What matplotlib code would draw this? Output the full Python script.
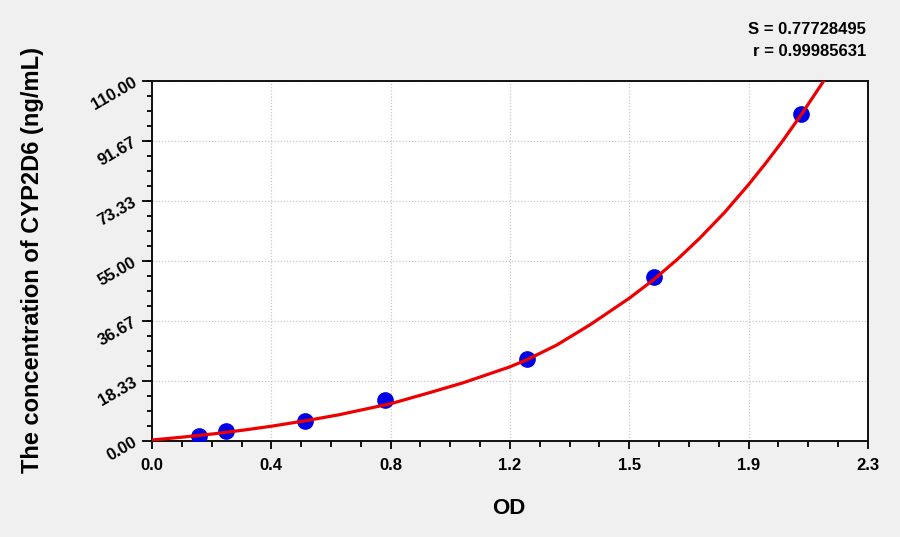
import numpy as np
import matplotlib
matplotlib.use("Agg")
import matplotlib.pyplot as plt
from matplotlib.ticker import AutoMinorLocator

# standard points (OD, concentration)
od = [0.152, 0.238, 0.491, 0.748, 1.204, 1.613, 2.086]
conc = [1.56, 3.12, 6.25, 12.5, 25.0, 50.0, 100.0]

# fitted curve
curve_od = [0.0, 0.1, 0.2, 0.3, 0.383, 0.5, 0.6, 0.767, 0.893, 1.0, 1.148,
            1.204, 1.3, 1.407, 1.533, 1.613, 1.69, 1.76, 1.84, 1.916, 1.97,
            2.023, 2.087, 2.162]
curve_conc = [0.3, 1.2, 2.2, 3.4, 4.5, 6.3, 8.0, 11.4, 14.8, 17.8, 22.6,
              24.8, 29.3, 35.5, 43.6, 49.4, 55.7, 62.0, 69.9, 78.3, 84.7,
              91.3, 99.9, 110.6]

x_ticks = [0.0, 2.3 / 6, 2 * 2.3 / 6, 3 * 2.3 / 6, 4 * 2.3 / 6, 5 * 2.3 / 6, 2.3]
x_labels = ["0.0", "0.4", "0.8", "1.2", "1.5", "1.9", "2.3"]
y_ticks = [0.0, 18.33, 36.67, 55.0, 73.33, 91.67, 110.0]
y_labels = ["0.00", "18.33", "36.67", "55.00", "73.33", "91.67", "110.00"]

S_text = "S = 0.77728495"
r_text = "r = 0.99985631"

plt.rcParams['font.family'] = ['Liberation Sans', 'DejaVu Sans']
bg = '#f0f0f0'

fig = plt.figure(figsize=(9, 5.37), dpi=100, facecolor=bg)
ax = fig.add_axes([0.1689, 0.1788, 0.7955, 0.6704])
ax.set_facecolor('white')

ax.plot(od, conc, 'o', color='#0000e6', markersize=11, zorder=3)
ax.plot(curve_od, curve_conc, '-', color='#ee0000', linewidth=2.3, zorder=4,
        solid_capstyle='round', solid_joinstyle='round')

ax.set_xlim(0, 2.3)
ax.set_ylim(0, 110)
ax.set_xticks(x_ticks)
ax.set_xticklabels(x_labels, fontsize=12, fontweight='bold')
ax.set_yticks(y_ticks)
ax.set_yticklabels(y_labels, fontsize=12, fontweight='bold', rotation=30,
                   ha='right', va='center', rotation_mode='anchor')
ax.xaxis.set_minor_locator(AutoMinorLocator(4))
ax.yaxis.set_minor_locator(AutoMinorLocator(4))
ax.tick_params(axis='x', which='major', direction='out', length=5.5, width=1.3, pad=7)
ax.tick_params(axis='x', which='minor', direction='out', length=4.5, width=1.3)
ax.tick_params(axis='y', which='major', direction='out', length=7, width=1.3, pad=5)
ax.tick_params(axis='y', which='minor', direction='out', length=3.6, width=1.3)

ax.grid(True, which='major', color='#c8c8c8', linestyle=(0, (1, 1.5)), linewidth=0.9)
for s in ax.spines.values():
    s.set_linewidth(1.4)
    s.set_color('#111111')

fig.text(509 / 900, 1 - 509 / 537, "OD", ha='center', va='center', fontsize=16,
         fontweight='bold')
fig.text(33 / 900, 1 - 260 / 537, "The concentration of CYP2D6 (ng/mL)",
         ha='center', va='center', rotation=90, fontsize=17, fontweight='bold')

fig.text(866 / 900, 1 - 30 / 537, S_text, ha='right', va='center', fontsize=12,
         fontweight='bold')
fig.text(866 / 900, 1 - 51 / 537, r_text, ha='right', va='center', fontsize=12,
         fontweight='bold')

fig.savefig("out.png", dpi=100, facecolor=bg)
